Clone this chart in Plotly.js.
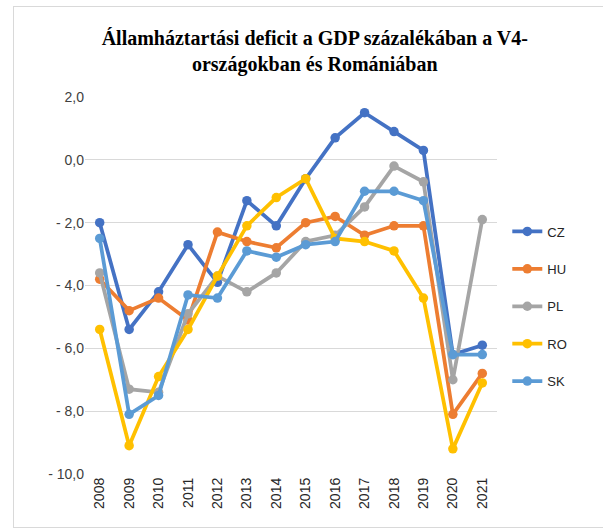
<!DOCTYPE html>
<html>
<head>
<meta charset="utf-8">
<script src="https://cdn.plot.ly/plotly-3.0.1.min.js"></script>
<style>
  html, body { margin: 0; padding: 0; background: #fff; }
  #wrap { position: relative; width: 603px; height: 530px; }
  #chart { width: 603px; height: 530px; }
  #frame { position: absolute; left: 13px; top: 6px; width: 600px; height: 520px; border: 1px solid #d9d9d9; pointer-events: none; }
</style>
</head>
<body>
<div id="wrap"><div id="chart"></div><div id="frame"></div></div>
<script>
const years = ["2008","2009","2010","2011","2012","2013","2014","2015","2016","2017","2018","2019","2020","2021"];
const CZ = [-2.0, -5.4, -4.2, -2.7, -3.9, -1.3, -2.1, -0.6, 0.7, 1.5, 0.9, 0.3, -6.2, -5.9];
const HU = [-3.8, -4.8, -4.4, -5.1, -2.3, -2.6, -2.8, -2.0, -1.8, -2.4, -2.1, -2.1, -8.1, -6.8];
const PL = [-3.6, -7.3, -7.4, -4.9, -3.7, -4.2, -3.6, -2.6, -2.4, -1.5, -0.2, -0.7, -7.0, -1.9];
const RO = [-5.4, -9.1, -6.9, -5.4, -3.7, -2.1, -1.2, -0.6, -2.5, -2.6, -2.9, -4.4, -9.2, -7.1];
const SK = [-2.5, -8.1, -7.5, -4.3, -4.4, -2.9, -3.1, -2.7, -2.6, -1.0, -1.0, -1.3, -6.2, -6.2];
const seriesNames = ["CZ", "HU", "PL", "RO", "SK"];
const seriesData = [CZ, HU, PL, RO, SK];
const colors = ["#4472C4", "#ED7D31", "#A5A5A5", "#FFC000", "#5B9BD5"];
const yTickVals = [2, 0, -2, -4, -6, -8, -10];
const yTickText = ["2,0", "0,0", "- 2,0", "- 4,0", "- 6,0", "- 8,0", "- 10,0"];

const traces = seriesNames.map((n, i) => ({
  type: 'scatter',
  mode: 'lines+markers',
  name: n,
  legendgroup: n,
  x: years,
  y: seriesData[i],
  line: { color: colors[i], width: 3.75 },
  marker: { color: colors[i], size: 9.5 },
  hoverinfo: 'x+y+name'
}));

const layout = {
  width: 603, height: 530,
  paper_bgcolor: '#ffffff', plot_bgcolor: '#ffffff',
  margin: { l: 85, r: 106, t: 97, b: 56 },
  title: {
    text: '<b>Államháztartási deficit a GDP százalékában a V4-<br>országokban és Romániában</b>',
    font: { family: 'Liberation Serif, Times New Roman, serif', size: 20, color: '#000' },
    x: 0.522, xanchor: 'center', y: 0.915, yanchor: 'top'
  },
  xaxis: {
    type: 'category',
    range: [-0.5, 13.5],
    showgrid: false, zeroline: false, showline: false,
    ticks: '', tickangle: -90,
    tickfont: { family: 'Liberation Sans, Arial, sans-serif', size: 14, color: '#262626' }
  },
  yaxis: {
    range: [-10, 2],
    tickvals: yTickVals, ticktext: yTickText,
    showgrid: true, gridcolor: '#d9d9d9', gridwidth: 1,
    zeroline: false, showline: false, ticks: '',
    tickfont: { family: 'Liberation Sans, Arial, sans-serif', size: 14, color: '#404040' }
  },
  showlegend: true,
  legend: {
    x: 1.025, xanchor: 'left', y: 0.683, yanchor: 'top',
    font: { family: 'Liberation Sans, Arial, sans-serif', size: 13, color: '#262626' },
    tracegroupgap: 17.5,
    bgcolor: 'rgba(0,0,0,0)'
  }
};

Plotly.newPlot('chart', traces, layout, { displayModeBar: false, staticPlot: true });
</script>
</body>
</html>
